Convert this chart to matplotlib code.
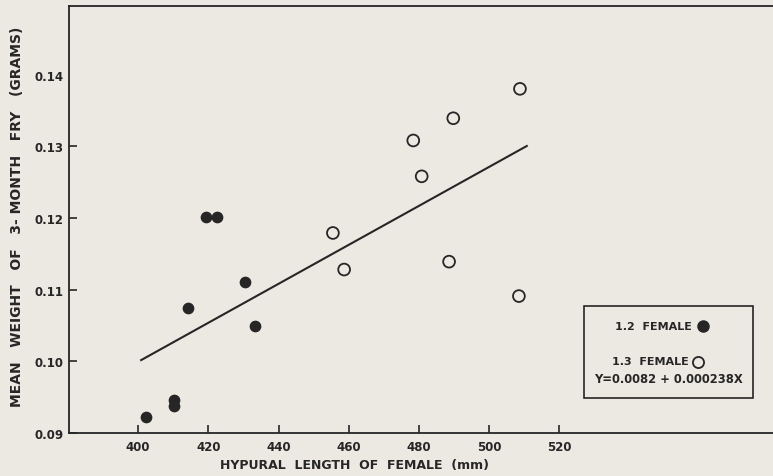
import numpy as np
import matplotlib.pyplot as plt

# hypural length of female (mm) and mean weight of 3-month fry (g)
len_12 = [402.2, 410.3, 410.3, 414.3, 419.4, 422.4, 430.4, 433.3]
wt_12 = [0.0923, 0.0946, 0.0937, 0.1074, 0.1201, 0.1201, 0.1111, 0.1049]

len_13 = [455.5, 458.7, 478.4, 480.8, 488.6, 489.8, 508.5, 508.8]
wt_13 = [0.1179, 0.1128, 0.1308, 0.1258, 0.1139, 0.1339, 0.1091, 0.1380]

# fitted line as drawn
fit_x = [400.6, 511.0]
fit_y = [0.1001, 0.1301]

xticks = [400, 420, 440, 460, 480, 500, 520]
yticks = [0.09, 0.10, 0.11, 0.12, 0.13, 0.14]
ylabels = ["0.09", "0.10", "0.11", "0.12", "0.13", "0.14"]

ink = "#262626"
paper = "#ece9e3"

plt.rcParams['font.family'] = ['DejaVu Sans']
fig = plt.figure(figsize=(7.73, 4.77), dpi=100, facecolor=paper)
ax = fig.add_axes([0.0897, 0.0901, 0.9103, 0.8959])
ax.set_facecolor(paper)

ax.plot(fit_x, fit_y, color=ink, lw=1.5, solid_capstyle='butt')
ax.scatter(len_12, wt_12, s=55, color=ink, edgecolors=ink, zorder=3)
ax.scatter(len_13, wt_13, s=72, facecolors='none', edgecolors=ink,
           linewidths=1.3, zorder=3)

ax.set_xlim(380.4, 580.9)
ax.set_ylim(0.09, 0.1496)
ax.set_xticks(xticks)
ax.set_yticks(yticks)
ax.set_yticklabels(ylabels)
ax.tick_params(direction='in', length=6, width=1.2, color=ink,
               labelcolor=ink, labelsize=8.5, pad=4)
ax.tick_params(axis='x', pad=5)
ax.yaxis.get_major_ticks()[-1].tick1line.set_visible(False)
for lab in ax.get_xticklabels() + ax.get_yticklabels():
    lab.set_fontweight('bold')

for side in ['left', 'bottom', 'top']:
    ax.spines[side].set_color(ink)
    ax.spines[side].set_linewidth(1.3)
ax.spines['right'].set_visible(False)

fig.text(355 / 773, 1 - 466 / 477, "HYPURAL  LENGTH  OF  FEMALE  (mm)",
         ha='center', va='center', fontsize=9, fontweight='bold', color=ink)
fig.text(17 / 773, 1 - 217 / 477,
         "MEAN   WEIGHT   OF   3- MONTH   FRY   (GRAMS)",
         rotation=90, ha='center', va='center', fontsize=10,
         fontweight='bold', color=ink)

# key box
tr = fig.transFigure
box = plt.Rectangle((584 / 773, 1 - 399 / 477), (753 - 584) / 773,
                    (399 - 306.7) / 477, transform=tr, fill=False,
                    edgecolor=ink, lw=1.2)
fig.patches.append(box)
fig.text(653 / 773, 1 - 327 / 477, "1.2  FEMALE", ha='center', va='center',
         fontsize=8, fontweight='bold', color=ink)
fig.text(650 / 773, 1 - 362.5 / 477, "1.3  FEMALE", ha='center', va='center',
         fontsize=8, fontweight='bold', color=ink)
fig.text(668 / 773, 1 - 380 / 477, "Y=0.0082 + 0.000238X", ha='center',
         va='center', fontsize=8.3, fontweight='bold', color=ink)
fig.add_artist(plt.Line2D([703 / 773], [1 - 327 / 477], marker='o', ms=8,
                          color=ink, transform=tr))
fig.add_artist(plt.Line2D([698 / 773], [1 - 362.5 / 477], marker='o', ms=8,
                          mfc='none', mec=ink, mew=1.3, transform=tr))

fig.savefig("out.png", dpi=100, facecolor=paper)
